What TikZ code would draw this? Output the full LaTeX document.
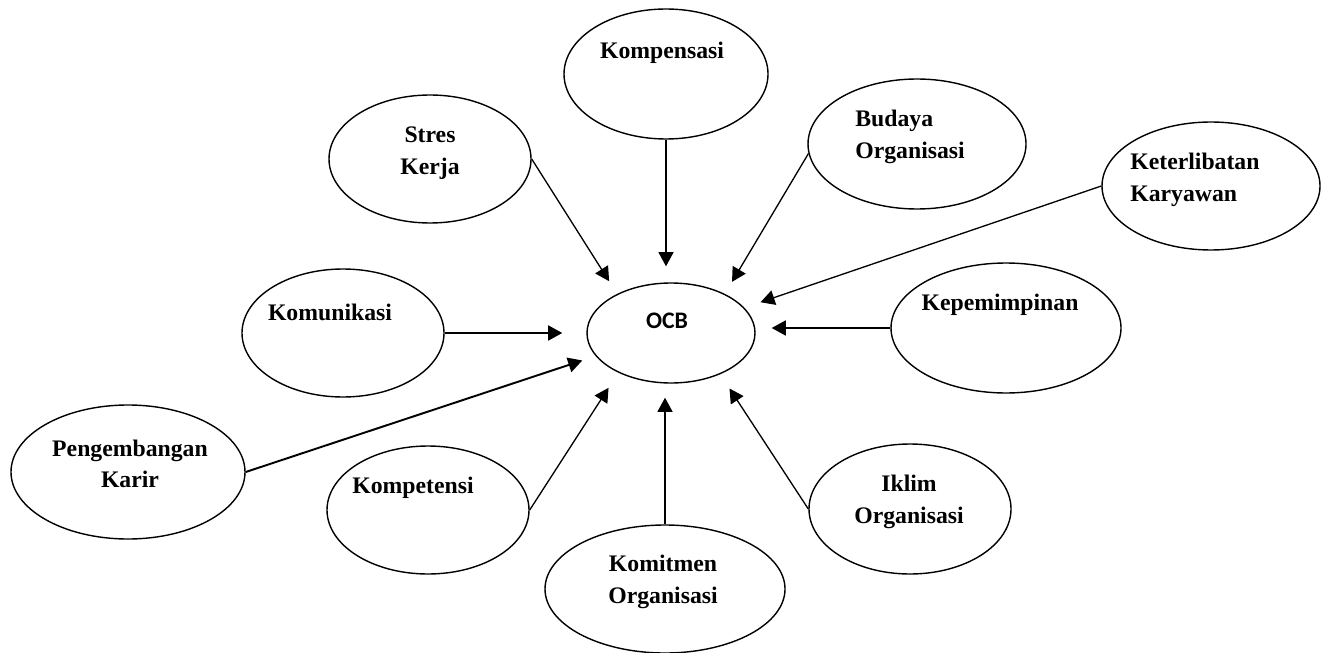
\documentclass[tikz,border=0pt]{standalone}
\usepackage{fontspec}
\setmainfont{Liberation Serif}
\newfontfamily\ocbfont{Carlito}
\usetikzlibrary{
	positioning				% relative placement
	, arrows.meta			% Triangle tips
	, shapes.geometric		% ellipse nodes
	, calc
}

\begin{document}
\begin{tikzpicture}[
			element/.style={
				ellipse,
				draw=black, line width=0.8pt,
				inner sep=0pt
			},
			vartext/.style={
				font=\fontsize{13.5}{18}\selectfont\bfseries,
				align=center,
				inner sep=0pt
			},
			arrow/.style={
				-{Triangle[length=8pt, width=8.5pt]},
				line width=0.75pt
			},
			bold arrow/.style={
				arrow,
				line width=1.1pt
			}]

			\useasboundingbox (0,0) rectangle (26.54,13.04);

			%%% Draw all of the ellipses
			\foreach \name/\x/\y/\w/\h in {
				ocb/13.42/6.38/3.36/2.00,
				komp/13.32/11.56/4.08/2.60,
				stres/8.60/9.86/4.04/2.56,
				budaya/18.34/10.16/4.36/2.60,
				keter/24.22/9.32/4.36/2.56,
				komun/6.86/6.38/4.04/2.56,
				kepem/20.12/6.48/4.60/2.60,
				pengem/2.56/3.60/4.68/2.68,
				kompet/8.56/2.84/4.04/2.56,
				komit/13.30/1.26/4.80/2.56,
				iklim/18.20/2.86/4.04/2.60} {
				\node [element, minimum width=\w cm, minimum height=\h cm] (\name) at (\x,\y) {};
			};

			% Texts, set high in the ellipses
			\node [font=\ocbfont\fontsize{13.5}{16}\selectfont\bfseries, inner sep=0pt] (tOcb) at (13.34,6.62) {OCB};
			\node [vartext] (tKomp) at (13.24,11.98) {Kompensasi};
			\node [vartext] (tStres) at (8.60,9.98) {Stres\\Kerja};
			\node [vartext, align=left, anchor=west] (tBudaya) at (17.10,10.30) {Budaya\\Organisasi};
			\node [vartext, align=left, anchor=west] (tKeter) at (22.60,9.44) {Keterlibatan\\Karyawan};
			\node [vartext] (tKomun) at (6.60,6.80) {Komunikasi};
			\node [vartext] (tKepem) at (20.00,6.94) {Kepemimpinan};
			\node [vartext] (tPengem) at (2.60,3.76) {Pengembangan\\Karir};
			\node [vartext] (tKompet) at (8.26,3.28) {Kompetensi};
			\node [vartext] (tKomit) at (13.26,1.40) {Komitmen\\Organisasi};
			\node [vartext] (tIklim) at (18.18,3.00) {Iklim\\Organisasi};

			%%% Every variable points to OCB
			\path [arrow] (komp.south) edge[shorten >=0.32cm] (komp.south |- ocb.north);
			\path [arrow] (stres.east) edge[shorten >=0.30cm] (ocb.144);
			\path [arrow] (budaya.185) edge[shorten >=0.28cm] (ocb.36);
			\path [arrow] (keter.west) edge[shorten >=0.34cm] (ocb.19);
			\path [bold arrow] (komun.east) edge[shorten >=0.48cm] (komun.east -| ocb.west);
			\path [bold arrow] (kepem.west) edge[shorten >=0.32cm] (kepem.west -| ocb.east);
			\path [bold arrow] (pengem.east) edge[shorten >=0.28cm] (ocb.197);
			\path [arrow] (kompet.east) edge[shorten >=0.36cm] (ocb.217);
			\path [arrow] (komit.north) edge[shorten >=0.28cm] (komit.north |- ocb.south);
			\path [arrow] (iklim.west) edge[shorten >=0.34cm] (ocb.320);

		\end{tikzpicture}
\end{document}
